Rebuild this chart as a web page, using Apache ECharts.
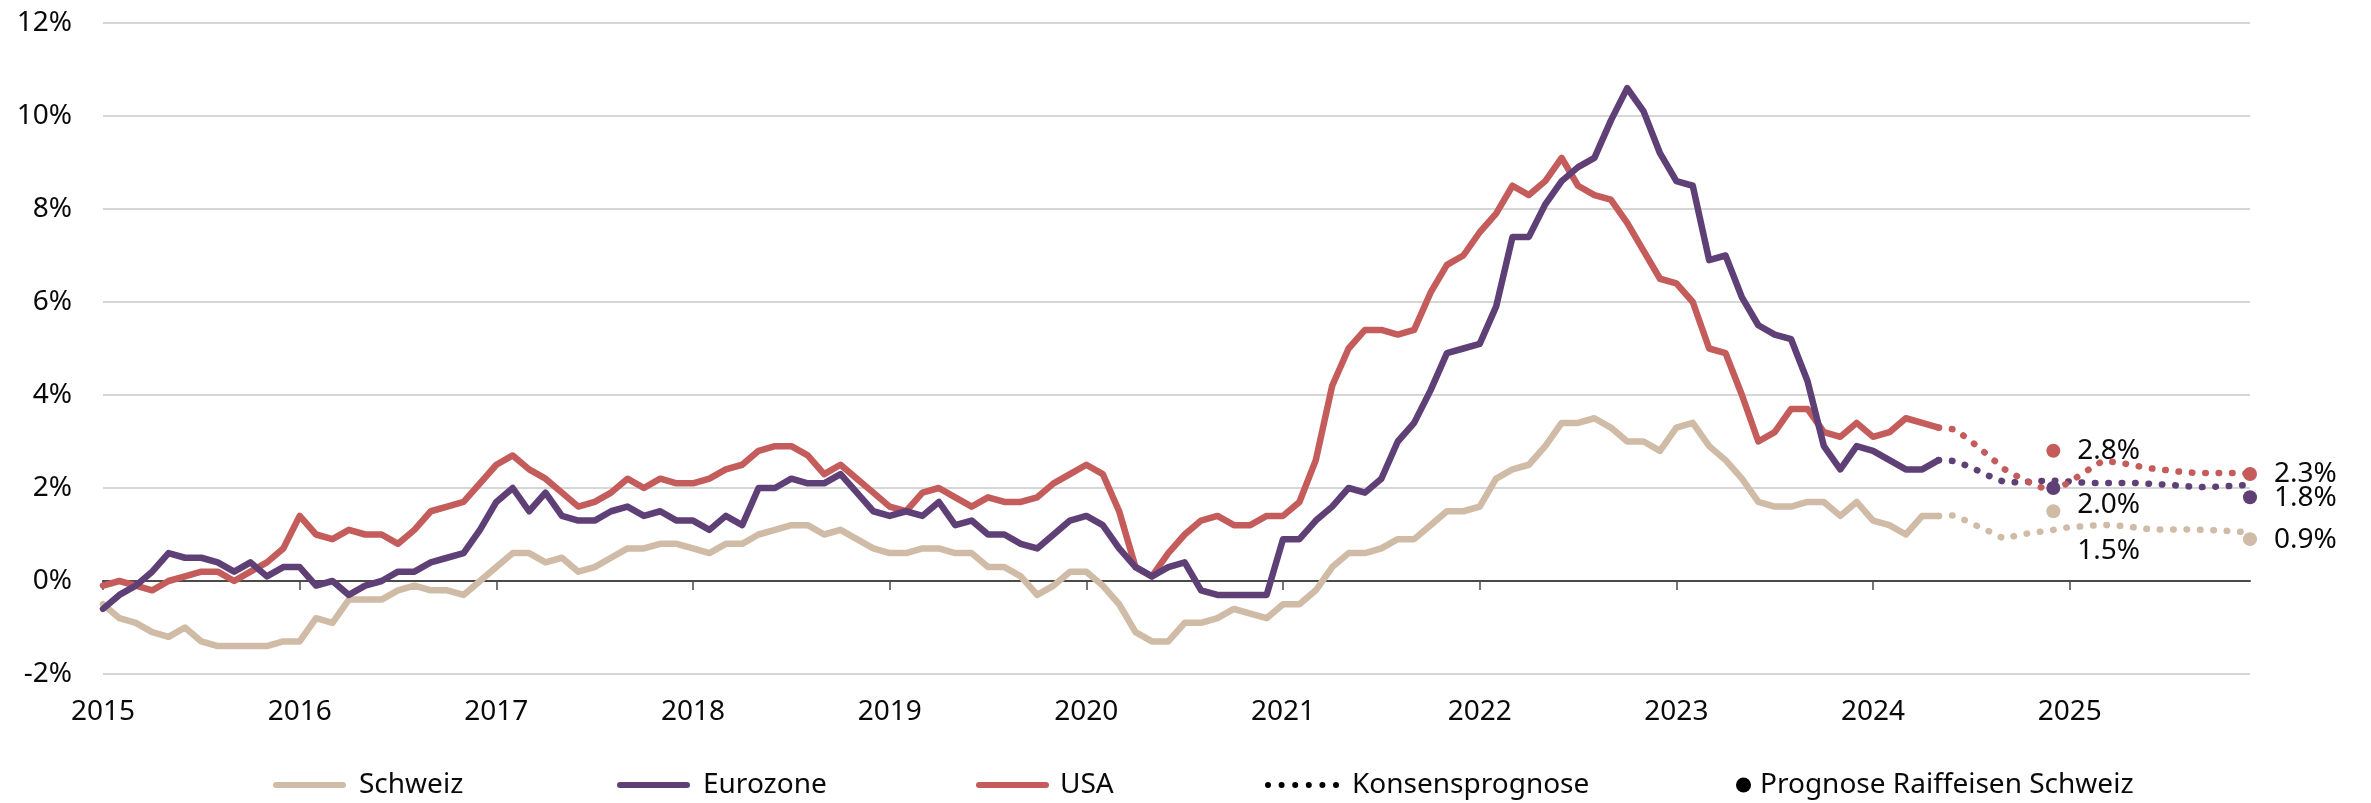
<!DOCTYPE html>
<html>
<head>
<meta charset="utf-8">
<script src="https://cdn.jsdelivr.net/npm/echarts@6/dist/echarts.min.js"></script>
<style>
html,body{margin:0;padding:0;background:#ffffff;}
#chart{width:2371px;height:803px;}
</style>
</head>
<body>
<div id="chart"></div>
<script>
// ---------- DATA ----------
const years = [2015,2016,2017,2018,2019,2020,2021,2022,2023,2024,2025];
const monthNums = ['01','02','03','04','05','06','07','08','09','10','11','12'];
const months = [];
years.forEach(y => monthNums.forEach(m => months.push(y + '-' + m)));

const yTickValues = [-2,0,2,4,6,8,10,12];

// Inflation, % y/y, monthly from 2015-01 to 2024-05
const schweiz = [
-0.5,-0.8,-0.9,-1.1,-1.2,-1.0,-1.3,-1.4,-1.4,-1.4,-1.4,-1.3,
-1.3,-0.8,-0.9,-0.4,-0.4,-0.4,-0.2,-0.1,-0.2,-0.2,-0.3,0.0,
0.3,0.6,0.6,0.4,0.5,0.2,0.3,0.5,0.7,0.7,0.8,0.8,
0.7,0.6,0.8,0.8,1.0,1.1,1.2,1.2,1.0,1.1,0.9,0.7,
0.6,0.6,0.7,0.7,0.6,0.6,0.3,0.3,0.1,-0.3,-0.1,0.2,
0.2,-0.1,-0.5,-1.1,-1.3,-1.3,-0.9,-0.9,-0.8,-0.6,-0.7,-0.8,
-0.5,-0.5,-0.2,0.3,0.6,0.6,0.7,0.9,0.9,1.2,1.5,1.5,
1.6,2.2,2.4,2.5,2.9,3.4,3.4,3.5,3.3,3.0,3.0,2.8,
3.3,3.4,2.9,2.6,2.2,1.7,1.6,1.6,1.7,1.7,1.4,1.7,
1.3,1.2,1.0,1.4,1.4];

const eurozone = [
-0.6,-0.3,-0.1,0.2,0.6,0.5,0.5,0.4,0.2,0.4,0.1,0.3,
0.3,-0.1,0.0,-0.3,-0.1,0.0,0.2,0.2,0.4,0.5,0.6,1.1,
1.7,2.0,1.5,1.9,1.4,1.3,1.3,1.5,1.6,1.4,1.5,1.3,
1.3,1.1,1.4,1.2,2.0,2.0,2.2,2.1,2.1,2.3,1.9,1.5,
1.4,1.5,1.4,1.7,1.2,1.3,1.0,1.0,0.8,0.7,1.0,1.3,
1.4,1.2,0.7,0.3,0.1,0.3,0.4,-0.2,-0.3,-0.3,-0.3,-0.3,
0.9,0.9,1.3,1.6,2.0,1.9,2.2,3.0,3.4,4.1,4.9,5.0,
5.1,5.9,7.4,7.4,8.1,8.6,8.9,9.1,9.9,10.6,10.1,9.2,
8.6,8.5,6.9,7.0,6.1,5.5,5.3,5.2,4.3,2.9,2.4,2.9,
2.8,2.6,2.4,2.4,2.6];

const usa = [
-0.1,0.0,-0.1,-0.2,0.0,0.1,0.2,0.2,0.0,0.2,0.4,0.7,
1.4,1.0,0.9,1.1,1.0,1.0,0.8,1.1,1.5,1.6,1.7,2.1,
2.5,2.7,2.4,2.2,1.9,1.6,1.7,1.9,2.2,2.0,2.2,2.1,
2.1,2.2,2.4,2.5,2.8,2.9,2.9,2.7,2.3,2.5,2.2,1.9,
1.6,1.5,1.9,2.0,1.8,1.6,1.8,1.7,1.7,1.8,2.1,2.3,
2.5,2.3,1.5,0.3,0.1,0.6,1.0,1.3,1.4,1.2,1.2,1.4,
1.4,1.7,2.6,4.2,5.0,5.4,5.4,5.3,5.4,6.2,6.8,7.0,
7.5,7.9,8.5,8.3,8.6,9.1,8.5,8.3,8.2,7.7,7.1,6.5,
6.4,6.0,5.0,4.9,4.0,3.0,3.2,3.7,3.7,3.2,3.1,3.4,
3.1,3.2,3.5,3.4,3.3];

// Consensus forecasts, monthly from 2024-05 to 2025-12
const konsensStart = '2024-05';
const konsensSchweiz  = [1.4,1.41,1.24,1.08,0.91,1.0,1.05,1.1,1.16,1.18,1.21,1.19,1.15,1.11,1.11,1.11,1.1,1.09,1.07,1.04];
const konsensEurozone = [2.6,2.58,2.44,2.27,2.13,2.12,2.15,2.16,2.14,2.11,2.11,2.11,2.11,2.09,2.07,2.04,2.02,2.03,2.05,2.07];
const konsensUSA      = [3.3,3.26,3.0,2.71,2.41,2.21,2.04,1.94,2.13,2.36,2.58,2.55,2.48,2.42,2.38,2.34,2.32,2.32,2.32,2.31];

// Raiffeisen forecasts (plotted at year end)
const prognoseMonths   = ['2024-12','2025-12'];
const prognoseSchweiz  = [1.5, 0.9];
const prognoseEurozone = [2.0, 1.8];
const prognoseUSA      = [2.8, 2.3];

// ---------- STYLE ----------
const FONT = "'Noto Sans', 'Open Sans', sans-serif";
const TXT = '#0a0a0a';
const C_CH = '#CFBBA6';
const C_EU = '#5F4076';
const C_US = '#C45C5C';

const kOff = months.indexOf(konsensStart);
const fc = arr => months.map((m, i) => (i >= kOff && i - kOff < arr.length) ? arr[i - kOff] : null);
const yearTick = i => i % 12 === 0;

function solid(name, data, color) {
  return {
    name: name, type: 'line', data: data, color: color,
    symbol: 'none', smooth: false, z: 3,
    lineStyle: {width: 6.5, color: color, cap: 'round', join: 'round'},
    emphasis: {disabled: true}
  };
}
function dotted(name, data, color) {
  return {
    name: name, type: 'line', data: data, color: color,
    symbol: 'none', smooth: false, z: 3,
    lineStyle: {width: 6.5, color: color, type: [0.5, 12.9], cap: 'round'},
    emphasis: {disabled: true}
  };
}
function prognose(name, values, color, offsets) {
  return {
    name: name, type: 'scatter', color: color, z: 5,
    symbol: 'circle', symbolSize: 14,
    itemStyle: {color: color, opacity: 1},
    data: prognoseMonths.map((m, i) => ({
      value: [m, values[i]],
      label: {offset: offsets[i]}
    })),
    label: {
      show: true, position: 'right', distance: 17,
      formatter: p => p.value[1].toFixed(1) + '%',
      fontFamily: FONT, fontSize: 28, color: TXT
    },
    emphasis: {disabled: true}
  };
}

const roundLine = 'path://M3,0L70,0A3,3 0 0 1 70,6L3,6A3,3 0 0 1 3,0Z';
let dots = '';
for (let k = 0; k < 6; k++) {
  const cx = 3 + k * 13.6;
  dots += 'M' + (cx - 3) + ',3a3,3 0 1,0 6,0a3,3 0 1,0 -6,0';
}
const dotsIcon = 'path://' + dots;

function legend(name, left, icon, w, h, pad) {
  return {
    data: [name], left: left, top: 771, padding: 0,
    icon: icon, itemWidth: w, itemHeight: h,
    selectedMode: false,
    itemStyle: {borderWidth: 0, opacity: 1},
    textStyle: {fontFamily: FONT, fontSize: 28, color: TXT, padding: [0, 0, 0, pad]}
  };
}

const option = {
  animation: false,
  backgroundColor: '#ffffff',
  textStyle: {fontFamily: FONT},
  grid: {left: 103, right: 121, top: 23, bottom: 129, containLabel: false, outerBoundsMode: 'none'},
  legend: [
    legend('Schweiz', 273, roundLine, 73, 6, 8),
    legend('Eurozone', 617, roundLine, 73, 6, 8),
    legend('USA', 976, roundLine, 73, 6, 6),
    legend('Konsensprognose', 1265, dotsIcon, 74, 6, 8),
    legend('Prognose Raiffeisen Schweiz', 1736, 'circle', 15, 15, 4)
  ],
  xAxis: {
    type: 'category', data: months, boundaryGap: false,
    axisLine: {show: true, onZero: true, lineStyle: {color: '#4a4a4a', width: 2}},
    axisTick: {show: true, interval: yearTick, length: 9, lineStyle: {color: '#4a4a4a', width: 1.5}},
    axisLabel: {
      interval: yearTick, formatter: v => v.slice(0, 4), margin: 24,
      fontFamily: FONT, fontSize: 28, color: TXT
    },
    splitLine: {show: false}
  },
  yAxis: {
    type: 'value', min: yTickValues[0], max: yTickValues[yTickValues.length - 1], interval: 2,
    axisLine: {show: false}, axisTick: {show: false},
    axisLabel: {formatter: v => v + '%', margin: 31, fontFamily: FONT, fontSize: 28, color: TXT},
    splitLine: {show: true, lineStyle: {color: '#C9C9C9', width: 1.5}}
  },
  series: [
    solid('Schweiz', schweiz, C_CH),
    solid('USA', usa, C_US),
    solid('Eurozone', eurozone, C_EU),
    dotted('Konsens Schweiz', fc(konsensSchweiz), C_CH),
    dotted('Konsens Eurozone', fc(konsensEurozone), C_EU),
    dotted('Konsens USA', fc(konsensUSA), C_US),
    {name: 'Konsensprognose', type: 'line', data: [], color: '#000000', symbol: 'none'},
    {name: 'Prognose Raiffeisen Schweiz', type: 'scatter', data: [], color: '#000000', symbol: 'circle', itemStyle: {opacity: 1}},
    prognose('Prognose USA', prognoseUSA, C_US, [[0, 0], [0, 0]]),
    prognose('Prognose Eurozone', prognoseEurozone, C_EU, [[0, 17], [0, 1]]),
    prognose('Prognose Schweiz', prognoseSchweiz, C_CH, [[0, 40], [0, 1]])
  ]
};

const chart = echarts.init(document.getElementById('chart'), null, {renderer: 'canvas', width: 2371, height: 803});
chart.setOption(option);
</script>
</body>
</html>
